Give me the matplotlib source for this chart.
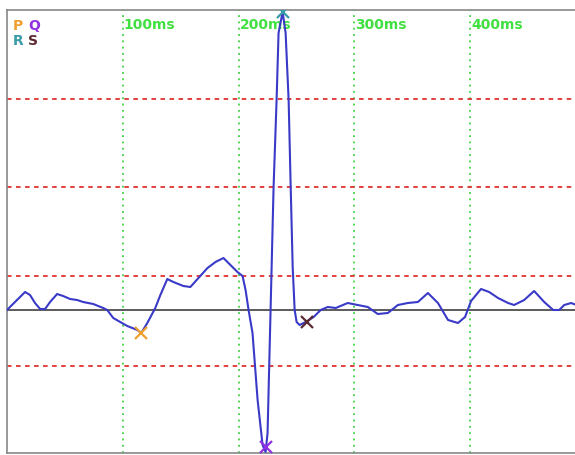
import matplotlib
matplotlib.use('Agg')
import matplotlib.pyplot as plt

# ECG trace: time (ms) and amplitude (arbitrary units, baseline = 0)
t_ms = [0, 6.9, 15.6, 19.9, 24.2, 28.6, 32.9, 37.2, 43.3, 48.5, 54.5, 60.6, 65.8,
        74.5, 83.1, 86.6, 91.8, 97.8, 103.9, 112.6, 116.0, 121.2, 128.1, 132.5,
        138.5, 143.7, 152.4, 158.4, 165.4, 173.2, 180.1, 187.0, 191.3, 199.1,
        203.5, 206.1, 208.7, 212.1, 216.5, 220.8, 223.4, 225.1, 227.7, 230.3,
        232.9, 234.6, 238.1, 240.7, 243.3, 245.0, 246.8, 248.5, 250.2, 252.8,
        258.0, 264.9, 271.0, 277.1, 284.0, 294.4, 303.0, 311.7, 320.3, 329.0,
        337.7, 346.3, 355.0, 363.6, 372.3, 381.0, 389.6, 395.7, 400.9, 409.5,
        416.5, 424.2, 432.9, 438.1, 446.8, 455.4, 464.1, 471.9, 477.1, 481.4,
        487.4, 491.8]
amp = [0, 8, 18, 15, 7, 1, 1, 8, 16, 14, 11, 10, 8,
       6, 2, 0, -8, -12, -16, -20, -23, -13, 2, 15,
       31, 28, 24, 23, 32, 42, 48, 52, 47, 38,
       34, 20, 0, -23, -90, -135, -142, -123, 0, 123,
       210, 277, 298, 277, 210, 127, 43, 0, -12, -15,
       -12, -7, 0, 3, 2, 7, 5, 3, -4, -3,
       5, 7, 8, 17, 7, -10, -13, -7, 9, 21,
       18, 12, 7, 5, 10, 19, 8, 0, 0, 5,
       7, 5]

# fiducial points
wave_names = ['P', 'Q', 'R', 'S']
wave_t = [116.0, 223.4, 238.1, 258.9]
wave_amp = [-23, -137, 298, -12]
wave_colors = ['#f0a030', '#9030e0', '#3a9aa8', '#5a2a30']

grid_ms = [100, 200, 300, 400]
grid_amp = [211, 123, 34, -56]

fig = plt.figure(figsize=(5.75, 4.55), dpi=100)
ax = fig.add_axes([7 / 575, 2 / 455, 0.995, 443 / 455])
ax.set_xlim(0, 491.8 * 1.005)
ax.set_ylim(-143, 300)

for g in grid_ms:
    ax.axvline(g, color='#40d040', lw=1.3, ls=(0, (1, 2.5)), zorder=1)
    ax.text(g + 1.0, 292, f'{g}ms', color='#40e040', fontsize=10,
            fontweight='bold', va='top', ha='left')
for g in grid_amp:
    ax.axhline(g, color='#e03030', lw=1.3, ls=(0, (2.5, 2.5)), zorder=1)
ax.axhline(0, color='#404040', lw=1.2, zorder=2)

ax.plot(t_ms, amp, color='#3a3ac8', lw=1.5, zorder=3)

for n, x, y, c in zip(wave_names, wave_t, wave_amp, wave_colors):
    ax.plot(x, y, marker='x', ms=9, mew=1.6, color=c, zorder=4)

# legend letters
ax.text(5, 291, 'P', color=wave_colors[0], fontsize=10, fontweight='bold', va='top')
ax.text(18, 291, 'Q', color=wave_colors[1], fontsize=10, fontweight='bold', va='top')
ax.text(5, 276, 'R', color=wave_colors[2], fontsize=10, fontweight='bold', va='top')
ax.text(18, 276, 'S', color=wave_colors[3], fontsize=10, fontweight='bold', va='top')

ax.set_xticks([])
ax.set_yticks([])
for s in ax.spines.values():
    s.set_color('#888888')
    s.set_linewidth(1.2)
ax.spines['right'].set_visible(False)

fig.savefig('out.png', dpi=100)
